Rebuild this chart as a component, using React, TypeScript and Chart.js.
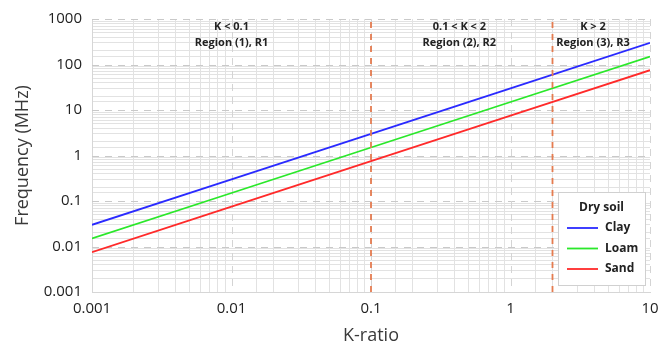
import { useEffect, useRef } from 'react';
import { Chart, registerables } from 'chart.js';

Chart.register(...registerables);

const kRatio = [0.001, 0.01, 0.1, 1, 10];
const clay = [0.03, 0.3, 3, 30, 300];
const loam = [0.015, 0.15, 1.5, 15, 150];
const sand = [0.0075, 0.075, 0.75, 7.5, 75];
const seriesNames = ['Clay', 'Loam', 'Sand'];
const seriesColors = ['#2a2aff', '#2ae82a', '#ff2a2a'];
const legendTitle = 'Dry soil';
const regionBounds = [0.1, 2];
const regionLabels = [
  ['K < 0.1', 'Region (1), R1'],
  ['0.1 < K < 2', 'Region (2), R2'],
  ['K > 2', 'Region (3), R3'],
];
const regionLabelK = [0.01, 0.43, 3.9];
const xTickLabels = ['0.001', '0.01', '0.1', '1', '10'];
const yTickLabels = ['0.001', '0.01', '0.1', '1', '10', '100', '1000'];
const xTitle = 'K-ratio';
const yTitle = 'Frequency (MHz)';

const FONT = "'Open Sans', sans-serif";

const isDecade = (v: number) => {
  const l = Math.log10(v);
  return Math.abs(l - Math.round(l)) < 1e-6;
};

export default function App() {
  const ref = useRef<HTMLCanvasElement | null>(null);

  useEffect(() => {
    document.body.style.margin = '0';
    const canvas = ref.current;
    if (!canvas) return;

    const overlay = {
      id: 'overlay',
      beforeDatasetsDraw(chart: any) {
        const { ctx, chartArea, scales } = chart;
        const xs = scales.x;
        const ys = scales.y;
        ctx.save();
        ctx.strokeStyle = '#c9c9c9';
        ctx.lineWidth = 1;
        ctx.setLineDash([7, 6]);
        for (let e = -2; e <= 3; e++) {
          const y = Math.round(ys.getPixelForValue(Math.pow(10, e))) + 0.5;
          ctx.beginPath();
          ctx.moveTo(chartArea.left, y);
          ctx.lineTo(chartArea.right, y);
          ctx.stroke();
        }
        ctx.strokeStyle = '#d4d4d4';
        for (let e = -2; e <= 1; e++) {
          const x = Math.round(xs.getPixelForValue(Math.pow(10, e))) + 0.5;
          ctx.beginPath();
          ctx.moveTo(x, chartArea.top);
          ctx.lineTo(x, chartArea.bottom);
          ctx.stroke();
        }
        ctx.restore();
      },
      afterDatasetsDraw(chart: any) {
        const { ctx, chartArea, scales } = chart;
        const xs = scales.x;
        ctx.save();
        ctx.fillStyle = '#222';
        ctx.font = `bold 11px ${FONT}`;
        ctx.textAlign = 'center';
        ctx.textBaseline = 'middle';
        regionLabels.forEach((lines, i) => {
          const x = xs.getPixelForValue(regionLabelK[i]);
          lines.forEach((t, j) => ctx.fillText(t, x, chartArea.top + 8 + j * 16));
        });
        const w = 87;
        const h = 93;
        const bx = chartArea.right - 5 - w;
        const by = chartArea.bottom - 7 - h;
        ctx.fillStyle = '#ffffff';
        ctx.fillRect(bx, by, w, h);
        ctx.strokeStyle = '#d0d0d0';
        ctx.lineWidth = 1;
        ctx.strokeRect(Math.round(bx) + 0.5, Math.round(by) + 0.5, w, h);
        ctx.fillStyle = '#222';
        ctx.font = `bold 12px ${FONT}`;
        ctx.textAlign = 'center';
        ctx.fillText(legendTitle, bx + w / 2, by + 16);
        ctx.textAlign = 'left';
        seriesNames.forEach((n, i) => {
          const y = by + 36 + i * 20.5;
          ctx.strokeStyle = seriesColors[i];
          ctx.lineWidth = 1.8;
          ctx.beginPath();
          ctx.moveTo(bx + 9, y);
          ctx.lineTo(bx + 40, y);
          ctx.stroke();
          ctx.fillStyle = '#222';
          ctx.fillText(n, bx + 47, y);
        });
        ctx.restore();
      },
    };

    const soil = [clay, loam, sand];
    const datasets: any[] = regionBounds.map((k) => ({
      label: 'bound',
      data: [
        { x: k, y: 0.001 },
        { x: k, y: 1000 },
      ],
      borderColor: '#e57c50',
      borderWidth: 1.8,
      borderDash: [6, 6],
      pointRadius: 0,
    }));
    soil.forEach((vals, i) => {
      datasets.push({
        label: seriesNames[i],
        data: kRatio.map((k, j) => ({ x: k, y: vals[j] })),
        borderColor: seriesColors[i],
        borderWidth: 1.8,
        pointRadius: 0,
      });
    });

    const gridColor = (c: any) => {
      const v = c.tick ? Number(c.tick.value) : 0;
      return v > 0.0011 && isDecade(v) ? 'rgba(0,0,0,0)' : '#e2e2e2';
    };

    const chart = new Chart(canvas, {
      type: 'line',
      data: { datasets },
      options: {
        animation: false,
        responsive: false,
        maintainAspectRatio: false,
        layout: { padding: { top: 12, right: 20, left: 0, bottom: 0 } },
        plugins: { legend: { display: false }, tooltip: { enabled: false } },
        scales: {
          x: {
            type: 'logarithmic',
            min: 0.001,
            max: 10,
            afterFit: (s: any) => {
              s.height = 55;
            },
            border: { color: '#d6d6d6' },
            grid: { color: gridColor, lineWidth: 1, drawTicks: false },
            ticks: {
              autoSkip: false,
              maxRotation: 0,
              padding: 8,
              color: '#222',
              font: { family: FONT, size: 15 },
              callback: (v: any) =>
                isDecade(Number(v)) ? xTickLabels[Math.round(Math.log10(Number(v))) + 3] : '',
            },
            title: {
              display: true,
              text: xTitle,
              color: '#3a3a3a',
              font: { family: FONT, size: 18 },
              padding: { top: 0, bottom: 0 },
            },
          },
          y: {
            type: 'logarithmic',
            min: 0.001,
            max: 1000,
            afterFit: (s: any) => {
              s.width = 92;
            },
            border: { color: '#d6d6d6' },
            grid: { color: gridColor, lineWidth: 1, drawTicks: false },
            ticks: {
              autoSkip: false,
              padding: 10,
              color: '#222',
              font: { family: FONT, size: 15 },
              callback: (v: any) =>
                isDecade(Number(v)) ? yTickLabels[Math.round(Math.log10(Number(v))) + 3] : '',
            },
            title: {
              display: true,
              text: yTitle,
              color: '#3a3a3a',
              font: { family: FONT, size: 18 },
              padding: { top: 12, bottom: 0 },
            },
          },
        },
      },
      plugins: [overlay],
    });
    return () => chart.destroy();
  }, []);

  return <canvas ref={ref} width={670} height={347} style={{ display: 'block' }} />;
}
